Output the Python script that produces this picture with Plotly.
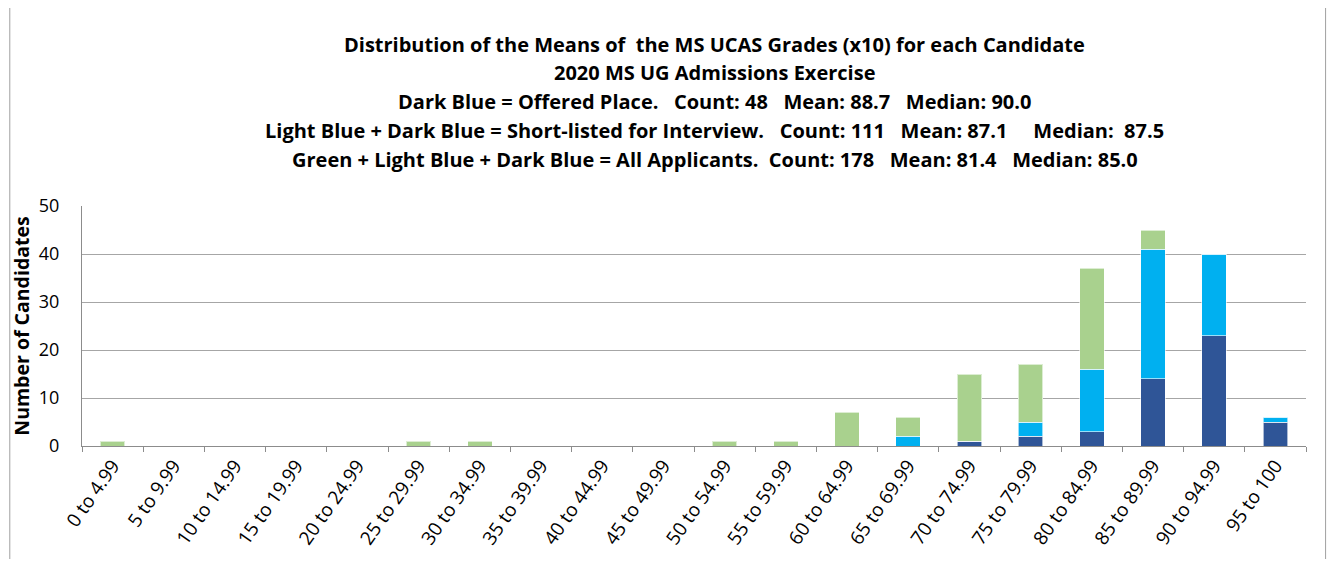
import plotly.graph_objects as go

# grade bands (mean UCAS grade x10)
categories = ["0 to 4.99", "5 to 9.99", "10 to 14.99", "15 to 19.99", "20 to 24.99",
              "25 to 29.99", "30 to 34.99", "35 to 39.99", "40 to 44.99", "45 to 49.99",
              "50 to 54.99", "55 to 59.99", "60 to 64.99", "65 to 69.99", "70 to 74.99",
              "75 to 79.99", "80 to 84.99", "85 to 89.99", "90 to 94.99", "95 to 100"]

offered = [0, 0, 0, 0, 0, 0, 0, 0, 0, 0, 0, 0, 0, 0, 1, 2, 3, 14, 23, 5]
shortlisted_only = [0, 0, 0, 0, 0, 0, 0, 0, 0, 0, 0, 0, 0, 2, 0, 3, 13, 27, 17, 1]
other_applicants = [1, 0, 0, 0, 0, 1, 1, 0, 0, 0, 1, 1, 7, 4, 14, 12, 21, 4, 0, 0]

font_name = "Open Sans"

fig = go.Figure()
for vals, col in [(offered, "#2F5597"), (shortlisted_only, "#00B0F0"), (other_applicants, "#A9D18E")]:
    fig.add_trace(go.Bar(x=categories, y=vals, marker_color=col,
                         marker_line_color="rgba(255,255,255,0.6)", marker_line_width=1))

title_lines = [
    "Distribution of the Means of  the MS UCAS Grades (x10) for each Candidate",
    "2020 MS UG Admissions Exercise",
    "Dark Blue = Offered Place.   Count: 48   Mean: 88.7   Median: 90.0",
    "Light Blue + Dark Blue = Short-listed for Interview.   Count: 111   Mean: 87.1     Median:  87.5",
    "Green + Light Blue + Dark Blue = All Applicants.  Count: 178   Mean: 81.4   Median: 85.0",
]
for i, line in enumerate(title_lines):
    fig.add_annotation(text="<b>" + line + "</b>", xref="paper", yref="paper",
                       x=0.517, y=1.0, yanchor="middle", yshift=162 - i * 28.8, showarrow=False,
                       font=dict(family=font_name, size=20, color="black"))

# page body has an 8px default margin, so the figure is shifted by 8px
fig.update_layout(
    width=1319, height=551,
    barmode="stack", bargap=0.6,
    showlegend=False,
    plot_bgcolor="white", paper_bgcolor="white",
    margin=dict(l=74, r=21, t=198, b=113),
    font=dict(family=font_name, size=15, color="black"),
    shapes=[dict(type="rect", xref="paper", yref="paper", x0=-0.059, x1=1.016, y0=-0.6, y1=1.9,
                 line=dict(color="#A0A0A0", width=1))],
)
fig.update_xaxes(tickangle=-55, showline=True, linecolor="#8C8C8C", ticks="outside",
                 tickson="boundaries", tickcolor="#8C8C8C", ticklen=5, automargin=False,
                 tickfont=dict(size=19))
fig.update_yaxes(range=[0, 50], dtick=10, showgrid=True, gridcolor="#A6A6A6",
                 showline=True, linecolor="#8C8C8C", zeroline=False, automargin=False,
                 tickfont=dict(size=18), ticklabelstandoff=18,
                 title=dict(text="<b>Number of Candidates</b>", font=dict(size=19.5), standoff=8))

fig.write_html("out.html")
